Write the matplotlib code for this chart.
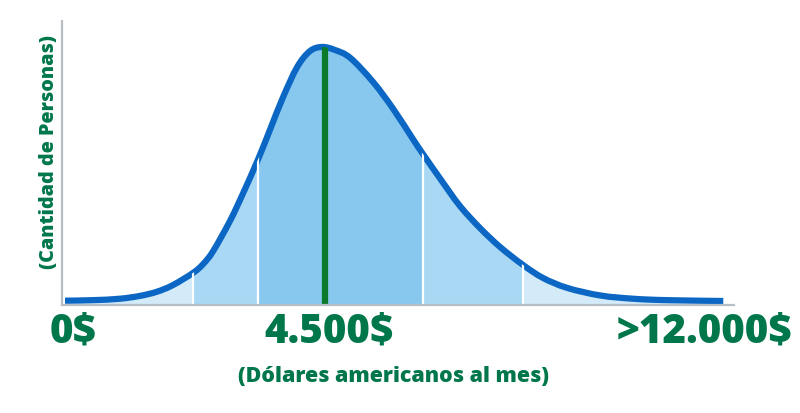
import numpy as np
import matplotlib
matplotlib.use("Agg")
from matplotlib import pyplot as plt
from matplotlib.path import Path
from matplotlib.patches import PathPatch

# income position (0-100 along the axis) and relative number of people
income = [0.45, 4.6, 8.6, 11.6, 14.1, 16.5, 19.5, 21.0, 22.5, 25.0, 26.9, 29.2, 31.0,
          32.9, 35.0, 36.9, 38.7, 40.6, 42.9, 46.3, 49.3, 52.2, 53.7, 56.3, 59.2,
          62.2, 65.2, 68.6, 71.6, 75.2, 80.1, 85.0, 90.0, 98.4]
people = [1.5, 1.7, 2.2, 3.2, 4.65, 7.0, 11.3, 14.4, 19.0, 29.6, 39.1, 51.4, 62.0,
          73.2, 83.8, 89.4, 90.85, 89.8, 87.0, 78.5, 69.0, 58.5, 53.2, 44.4, 34.9,
          27.1, 20.4, 14.1, 9.5, 6.0, 3.35, 2.2, 1.7, 1.4]
bands = [19.5, 29.2, 53.7, 68.6]
peak_x = 39.1

tick_labels = ["0$", "4.500$", ">12.000$"]
xlabel = "(Dólares americanos al mes)"
ylabel = "(Cantidad de Personas)"

green = "#00774a"
pts = np.column_stack([income, people])


def smooth_path(p):
    # catmull-rom through the points, as cubic bezier segments
    ext = np.vstack([p[0], p, p[-1]])
    verts = [p[0]]
    codes = [Path.MOVETO]
    for i in range(1, len(ext) - 2):
        c1 = ext[i] + (ext[i + 1] - ext[i - 1]) / 6
        c2 = ext[i + 1] - (ext[i + 2] - ext[i]) / 6
        verts += [c1, c2, ext[i + 1]]
        codes += [Path.CURVE4] * 3
    return verts, codes


fig = plt.figure(figsize=(8, 4.14), dpi=100)
ax = fig.add_axes([0.0775, 0.2609, 0.84, 0.686])
ax.set_xlim(0, 100)
ax.set_ylim(0, 100)

verts, codes = smooth_path(pts)
area = PathPatch(Path(verts + [(income[-1], 0), (income[0], 0), (0, 0)],
                      codes + [Path.LINETO, Path.LINETO, Path.CLOSEPOLY]),
                 facecolor="#d3eaf9", lw=0)
ax.add_patch(area)

for a, b, c in [(bands[0], bands[3], "#a9d8f5"), (bands[1], bands[2], "#88c8ee")]:
    sp = ax.axvspan(a, b, color=c, lw=0)
    sp.set_clip_path(area)
for b in bands:
    vl = ax.vlines(b, 0, 100, color="white", lw=1.6)
    vl.set_clip_path(area)
gl = ax.vlines(peak_x, 0, 100, color="#0a7a2a", lw=4.5)
gl.set_clip_path(area)

curve = PathPatch(Path(verts, codes), fill=False, edgecolor="#0b67c3", lw=4.5,
                  capstyle="butt", joinstyle="round", clip_on=False)
ax.add_patch(curve)

for s in ["top", "right"]:
    ax.spines[s].set_visible(False)
for s in ["left", "bottom"]:
    ax.spines[s].set_color("#b8bec6")
    ax.spines[s].set_linewidth(1.6)
ax.set_xticks([])
ax.set_yticks([])

font = dict(family="Open Sans", weight=800, color=green)
fig.text(50 / 800, 0.1715, tick_labels[0], ha="left", va="baseline", fontsize=29, **font)
fig.text(329 / 800, 0.1715, tick_labels[1], ha="center", va="baseline", fontsize=29, **font)
fig.text(792 / 800, 0.1715, tick_labels[2], ha="right", va="baseline", fontsize=29, **font)
fig.text(394 / 800, 0.0773, xlabel, ha="center", va="baseline", fontsize=15.4, **font)
fig.text(49 / 800, 0.634, ylabel, ha="center", va="center", rotation=90, fontsize=14.2, **font)

fig.savefig("out.png", dpi=100)
